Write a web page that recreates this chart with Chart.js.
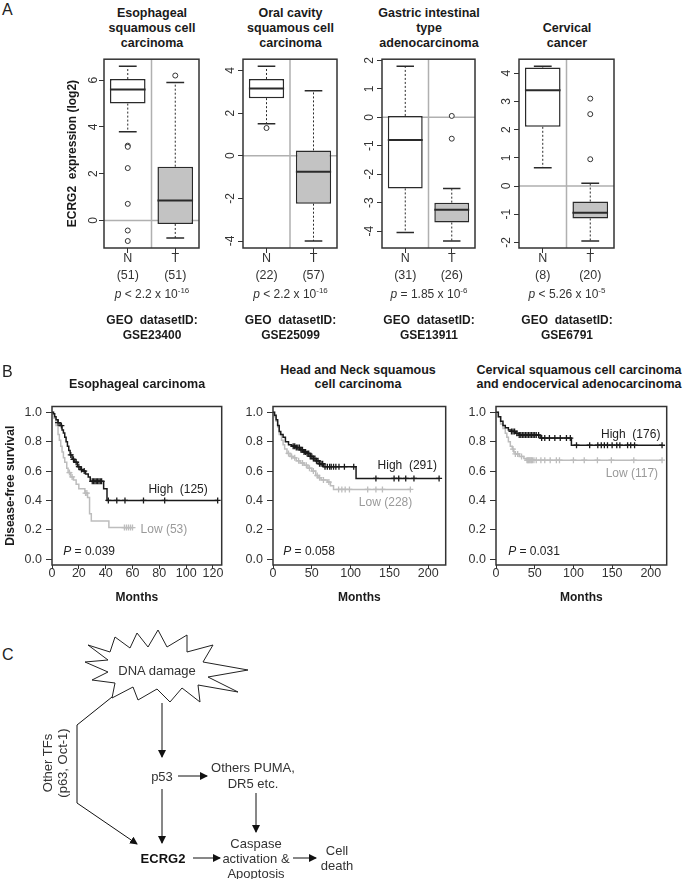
<!DOCTYPE html>
<html>
<head>
<meta charset="utf-8">
<script src="https://cdn.jsdelivr.net/npm/chart.js@4.4.1/dist/chart.umd.min.js"></script>
<style>
  body { margin: 0; background: #fff; }
  #page { position: relative; width: 685px; height: 879px; overflow: hidden; background: #fff;
          font-family: "Liberation Sans", Arial, sans-serif; color: #222; }
  #page canvas { position: absolute; }
  .lbl { position: absolute; white-space: nowrap; transform: translate(-50%, -50%); text-align: center; }
  .ttl { font-weight: bold; font-size: 12.5px; color: #1a1a1a; }
  .pv { font-size: 12px; color: #333; }
  .pv sup { font-size: 8px; vertical-align: 5px; }
  .geo { font-weight: bold; font-size: 12px; color: #1a1a1a; }
  .panel { font-size: 16px; color: #222; transform: translate(0, -50%); }
  svg { position: absolute; left: 0; top: 0; }
</style>
</head>
<body>
<div id="page"></div>
<script>
// ---- Panel A: ECRG2 expression box plots ----
const groups = ['N', 'T'];
const aTitles = [
  ['Esophageal', 'squamous cell', 'carcinoma'],
  ['Oral cavity', 'squamous cell', 'carcinoma'],
  ['Gastric intestinal', 'type', 'adenocarcinoma'],
  ['', 'Cervical', 'cancer'],
];
const aCounts = [[51, 51], [22, 57], [31, 26], [8, 20]];
const aLowerWhisker = [[3.8, -0.75], [1.5, -4.0], [-4.05, -4.35], [0.65, -1.95]];
const aQ1 = [[5.0, -0.15], [2.7, -2.25], [-2.5, -3.7], [2.1, -1.15]];
const aMedian = [[5.6, 0.85], [3.15, -0.75], [-0.8, -3.25], [3.4, -0.95]];
const aQ3 = [[6.05, 2.3], [3.6, 0.25], [0.05, -3.0], [4.2, -0.55]];
const aUpperWhisker = [[6.6, 5.9], [4.2, 3.05], [1.8, -2.5], [4.25, 0.1]];
const aOutliers = [
  [[3.2, 3.15, 2.24, 0.71, -0.43, -0.88], [6.2]],
  [[1.3], []],
  [[], [0.05, -0.75]],
  [[], [3.1, 2.55, 0.95]],
];
const aYTicks = [[0, 2, 4, 6], [-4, -2, 0, 2, 4], [-4, -3, -2, -1, 0, 1, 2], [-2, -1, 0, 1, 2, 3, 4]];
const aPSign = ['<', '<', '=', '<'];
const aPMant = ['2.2', '2.2', '1.85', '5.26'];
const aPExp = ['-16', '-16', '-6', '-5'];
const aGeo = ['GSE23400', 'GSE25099', 'GSE13911', 'GSE6791'];

// ---- Panel B: Kaplan-Meier disease-free survival ----
const kmTitles = [['Esophageal  carcinoma'], ['Head and Neck squamous', 'cell carcinoma'],
  ['Cervical squamous cell carcinoma', 'and endocervical adenocarcinoma']];
const kmYTicks = [0, 0.2, 0.4, 0.6, 0.8, 1.0];
const kmXTicks = [[0, 20, 40, 60, 80, 100, 120], [0, 50, 100, 150, 200], [0, 50, 100, 150, 200]];
const kmXMax = [126.5, 222.5, 220.5];
const kmHighN = [125, 291, 176];
const kmLowN = [53, 228, 117];
const kmP = ['0.039', '0.058', '0.031'];

const escHighT = [0, 1, 2, 3, 4.5, 6, 7.5, 8.5, 9.5, 10.5, 11.5, 12.5, 13.5, 15, 17, 19, 21, 23, 25, 27, 28.5, 38.5, 41, 123.5];
const escHighS = [1, 0.99, 0.97, 0.95, 0.93, 0.91, 0.88, 0.86, 0.83, 0.80, 0.77, 0.74, 0.71, 0.68, 0.66, 0.63, 0.61, 0.60, 0.58, 0.56, 0.53, 0.48, 0.40, 0.40];
const escHighCens = [4.5, 7, 14, 16, 18, 20, 22, 24, 30, 31, 32, 33, 34, 35, 36, 37, 42, 48.3, 54.4, 68.2, 84, 123.5];
const escLowT = [0, 1.5, 3, 4.5, 5.5, 6.5, 7.5, 8.5, 9.5, 11, 12, 14, 16, 18, 20, 24.5, 26.5, 28, 29.3, 42.4, 60];
const escLowS = [1, 0.96, 0.91, 0.85, 0.81, 0.77, 0.73, 0.69, 0.66, 0.62, 0.59, 0.56, 0.54, 0.51, 0.48, 0.45, 0.42, 0.31, 0.26, 0.215, 0.215];
const escLowCens = [13, 15, 25, 26, 54, 55.5, 57, 58.5, 60];

const hnHighT = [0, 2, 4, 6, 8, 10, 13, 16, 20, 24, 30, 36, 40, 44, 48, 52, 56, 60, 65, 107, 214];
const hnHighS = [1, 0.98, 0.95, 0.91, 0.87, 0.85, 0.83, 0.80, 0.78, 0.77, 0.76, 0.745, 0.73, 0.72, 0.70, 0.685, 0.67, 0.65, 0.63, 0.55, 0.55];
const hnHighCens = [26, 28, 30, 32, 34, 36, 38, 40, 42, 44, 46, 48, 50, 52, 54, 56, 58, 60, 62, 64, 67, 70, 73, 75, 78, 81, 85, 92, 104, 132.6, 156, 162, 171, 181.6, 214];
const hnLowT = [0, 2, 4, 6, 8, 11, 13, 15, 18, 22, 26, 30, 35, 40, 45, 50, 55, 58, 62, 70, 74, 78, 177];
const hnLowS = [1, 0.97, 0.94, 0.90, 0.85, 0.81, 0.78, 0.75, 0.72, 0.70, 0.69, 0.67, 0.655, 0.64, 0.62, 0.60, 0.57, 0.555, 0.54, 0.525, 0.50, 0.475, 0.475];
const hnLowCens = [20, 24, 28, 33, 38, 43, 47, 52, 57, 60, 65, 72, 84.5, 88.7, 93, 98.5, 122, 132.6, 141, 177];

const cxHighT = [0, 3, 6, 9, 12, 16, 20, 25, 30, 57, 97.4, 214.5];
const cxHighS = [1, 0.97, 0.94, 0.91, 0.895, 0.88, 0.87, 0.857, 0.845, 0.825, 0.776, 0.776];
const cxHighCens = [20, 22, 24, 27, 30, 32, 34, 36, 38, 40, 42, 44, 46, 48, 50, 52, 55, 59, 63, 69, 76, 83, 91, 96, 104, 121, 131.5, 136, 140, 144, 150, 156, 160, 170, 174, 179, 214.5];
const cxLowT = [0, 3, 6, 9, 12, 14, 16, 18.5, 21, 23, 25, 30, 36, 40, 214.5];
const cxLowS = [1, 0.97, 0.92, 0.89, 0.857, 0.83, 0.80, 0.77, 0.75, 0.73, 0.717, 0.70, 0.685, 0.674, 0.674];
const cxLowCens = [22, 25, 28, 33, 40, 41, 42, 43, 44, 45, 46, 47, 49, 52, 58, 63, 70, 78, 82, 100, 114, 131, 149, 178, 214.5];

const kmSets = [
  [escHighT, escHighS, escHighCens, escLowT, escLowS, escLowCens],
  [hnHighT, hnHighS, hnHighCens, hnLowT, hnLowS, hnLowCens],
  [cxHighT, cxHighS, cxHighCens, cxLowT, cxLowS, cxLowCens],
];

Chart.defaults.font.family = '"Liberation Sans", Arial, sans-serif';
Chart.defaults.color = '#333';

const page = document.getElementById('page');

function makeCanvas(l, t, w, h) {
  const c = document.createElement('canvas');
  c.width = w; c.height = h;
  c.style.left = l + 'px'; c.style.top = t + 'px';
  c.style.width = w + 'px'; c.style.height = h + 'px';
  page.appendChild(c);
  return c;
}

function label(x, y, html, cls) {
  const d = document.createElement('div');
  d.className = 'lbl ' + cls;
  d.style.left = x + 'px'; d.style.top = y + 'px';
  d.innerHTML = html;
  page.appendChild(d);
}

const framePlugin = {
  id: 'frame',
  afterDraw(chart) {
    const { ctx, chartArea: a } = chart;
    ctx.save();
    ctx.strokeStyle = '#333';
    ctx.lineWidth = 1.5;
    ctx.strokeRect(a.left, a.top, a.right - a.left, a.bottom - a.top);
    ctx.restore();
  },
};

const boxPlugin = {
  id: 'boxWhisker',
  beforeDatasetsDraw(chart) {
    const { ctx, chartArea: a, scales: { y } } = chart;
    const y0 = y.getPixelForValue(0), xm = (a.left + a.right) / 2;
    ctx.save();
    ctx.strokeStyle = '#b0b0b0';
    ctx.lineWidth = 1.5;
    ctx.beginPath();
    ctx.moveTo(a.left, y0); ctx.lineTo(a.right, y0);
    ctx.moveTo(xm, a.top); ctx.lineTo(xm, a.bottom);
    ctx.stroke();
    ctx.restore();
  },
  afterDatasetsDraw(chart, args, o) {
    const { ctx, scales: { y } } = chart;
    const meta = chart.getDatasetMeta(0);
    ctx.save();
    ctx.strokeStyle = '#2a2a2a';
    meta.data.forEach((bar, j) => {
      const x = bar.x, hw = bar.width / 2;
      const pMin = y.getPixelForValue(o.min[j]), pMax = y.getPixelForValue(o.max[j]);
      const pQ1 = y.getPixelForValue(o.q1[j]), pQ3 = y.getPixelForValue(o.q3[j]);
      const pMed = y.getPixelForValue(o.med[j]);
      ctx.lineWidth = 1;
      ctx.setLineDash([2, 2]);
      ctx.beginPath();
      ctx.moveTo(x, pQ3); ctx.lineTo(x, pMax);
      ctx.moveTo(x, pQ1); ctx.lineTo(x, pMin);
      ctx.stroke();
      ctx.setLineDash([]);
      ctx.lineWidth = 1.5;
      ctx.beginPath();
      ctx.moveTo(x - hw / 2, pMax); ctx.lineTo(x + hw / 2, pMax);
      ctx.moveTo(x - hw / 2, pMin); ctx.lineTo(x + hw / 2, pMin);
      ctx.stroke();
      ctx.lineWidth = 2;
      ctx.beginPath();
      ctx.moveTo(x - hw, pMed); ctx.lineTo(x + hw, pMed);
      ctx.stroke();
    });
    ctx.restore();
  },
};

const kmTextPlugin = {
  id: 'kmText',
  afterDatasetsDraw(chart, args, o) {
    const { ctx, scales: { x, y } } = chart;
    ctx.save();
    ctx.textBaseline = 'middle';
    ctx.font = '12px "Liberation Sans", Arial, sans-serif';
    o.items.forEach(it => {
      ctx.fillStyle = it.color;
      ctx.textAlign = 'center';
      ctx.fillText(it.text, x.getPixelForValue(it.t), y.getPixelForValue(it.s));
    });
    // P value, italic P
    const px = x.getPixelForValue(o.p.t), py = y.getPixelForValue(o.p.s);
    ctx.fillStyle = '#222';
    ctx.textAlign = 'left';
    ctx.font = 'italic 12px "Liberation Sans", Arial, sans-serif';
    ctx.fillText('P', px, py);
    const w = ctx.measureText('P').width;
    ctx.font = '12px "Liberation Sans", Arial, sans-serif';
    ctx.fillText(' = ' + o.p.text, px + w, py);
    ctx.restore();
  },
};

// layout of the frames (page pixels)
const aFrames = [[104, 200], [243, 338], [382, 476], [519, 615]];

aFrames.forEach(([fl, fr], i) => {
  const axisW = i === 0 ? 44 : 30;
  const left = fl - axisW;
  const cv = makeCanvas(left, 50, fr + 4 - left, 240);
  const vals = [].concat(aLowerWhisker[i], aUpperWhisker[i], aOutliers[i][0], aOutliers[i][1]);
  const lo = Math.min(...vals), hi = Math.max(...vals), ext = (hi - lo) * 0.04;
  const outPts = [];
  aOutliers[i].forEach((arr, j) => arr.forEach(v => outPts.push({ x: groups[j], y: v })));
  new Chart(cv, {
    type: 'bar',
    data: {
      labels: groups,
      datasets: [
        { type: 'bar', data: groups.map((g, j) => [aQ1[i][j], aQ3[i][j]]),
          backgroundColor: ['#ffffff', '#c3c3c3'], borderColor: '#2a2a2a', borderWidth: 1.5,
          borderSkipped: false, categoryPercentage: 1, barPercentage: 0.75, order: 1 },
        { type: 'scatter', data: outPts, pointStyle: 'circle', pointRadius: 2.5,
          borderColor: '#333', backgroundColor: '#fff', borderWidth: 1, order: 0 },
      ],
    },
    options: {
      responsive: false, animation: false, devicePixelRatio: 1,
      layout: { padding: { top: 9, right: 4, bottom: 2, left: 0 } },
      plugins: {
        legend: { display: false }, tooltip: { enabled: false },
        boxWhisker: { min: aLowerWhisker[i], q1: aQ1[i], med: aMedian[i], q3: aQ3[i], max: aUpperWhisker[i] },
      },
      scales: {
        x: {
          grid: { offset: false, drawOnChartArea: false, tickLength: 5, color: '#333' },
          border: { display: false },
          ticks: { font: { size: 12.5, lineHeight: 1.36 }, color: '#333', padding: -3, maxRotation: 0, autoSkip: false,
                   callback: (v, j) => [groups[j], '(' + aCounts[i][j] + ')'] },
          afterFit(s) { s.height = 40; },
        },
        y: {
          min: lo - ext, max: hi + ext,
          afterBuildTicks(s) { s.ticks = aYTicks[i].map(v => ({ value: v })); },
          grid: { drawOnChartArea: false, tickLength: 5, color: '#333' },
          border: { display: false },
          ticks: { minRotation: 90, maxRotation: 90, crossAlign: 'center', padding: 2, font: { size: 12 }, color: '#333' },
          title: { display: i === 0, text: 'ECRG2  expression (log2)', color: '#1a1a1a',
                   font: { size: 12, weight: 'bold' }, padding: { top: 5, bottom: 0 } },
          afterFit(s) { s.width = axisW; },
        },
      },
    },
    plugins: [boxPlugin, framePlugin],
  });

  const cx = (fl + fr) / 2;
  [13, 28, 43].forEach((yy, k) => { if (aTitles[i][k]) label(cx, yy, aTitles[i][k], 'ttl'); });
  label(cx, 293, '<i>p</i> ' + aPSign[i] + ' ' + aPMant[i] + ' x 10<sup>' + aPExp[i] + '</sup>', 'pv');
  label(cx, 320, 'GEO&nbsp; datasetID:', 'geo');
  label(cx, 335, aGeo[i], 'geo');
});

// ---- Panel B charts ----
function survAt(times, surv, t) {
  let k = 0;
  for (let i = 0; i < times.length; i++) if (times[i] <= t) k = i;
  return surv[k];
}

const kmFrames = [[51.7, 222.7], [272.7, 446.7], [495.7, 668.3]];
const kmTitleX = [137, 358, 579];
const kmLabelPos = [
  { high: [94, 0.47], low: [83.4, 0.2], p: [8.4, 0.05] },
  { high: [173, 0.635], low: [145, 0.385], p: [13.2, 0.05] },
  { high: [174, 0.85], low: [175.5, 0.585], p: [15.7, 0.05] },
];

kmFrames.forEach(([fl, fr], k) => {
  const axisW = k === 0 ? 52 : 40;
  const left = Math.round(fl - axisW);
  const cv = makeCanvas(left, 395, Math.round(fr + 4 - left), 217);
  const [hT, hS, hC, lT, lS, lC] = kmSets[k];
  const pos = kmLabelPos[k];
  new Chart(cv, {
    type: 'scatter',
    data: {
      datasets: [
        { data: hC.map(t => ({ x: t, y: survAt(hT, hS, t) })), pointStyle: 'cross', pointRadius: 3,
          borderColor: '#1a1a1a', borderWidth: 1.3, showLine: false },
        { data: hT.map((t, i) => ({ x: t, y: hS[i] })), showLine: true, stepped: true,
          borderColor: '#1a1a1a', borderWidth: 1.5, pointRadius: 0 },
        { data: lC.map(t => ({ x: t, y: survAt(lT, lS, t) })), pointStyle: 'cross', pointRadius: 3,
          borderColor: '#bdbdbd', borderWidth: 1.3, showLine: false },
        { data: lT.map((t, i) => ({ x: t, y: lS[i] })), showLine: true, stepped: true,
          borderColor: '#bdbdbd', borderWidth: 1.5, pointRadius: 0 },
      ],
    },
    options: {
      responsive: false, animation: false, devicePixelRatio: 1,
      layout: { padding: { top: 6, right: 4, bottom: 2, left: 0 } },
      plugins: {
        legend: { display: false }, tooltip: { enabled: false },
        kmText: {
          items: [
            { text: 'High  (' + kmHighN[k] + ')', t: pos.high[0], s: pos.high[1], color: '#222' },
            { text: 'Low (' + kmLowN[k] + ')', t: pos.low[0], s: pos.low[1], color: '#9a9a9a' },
          ],
          p: { text: kmP[k], t: pos.p[0], s: pos.p[1] },
        },
      },
      scales: {
        x: {
          type: 'linear', min: 0, max: kmXMax[k],
          afterBuildTicks(s) { s.ticks = kmXTicks[k].map(v => ({ value: v })); },
          grid: { drawOnChartArea: false, tickLength: 4, color: '#333' },
          border: { display: false },
          ticks: { font: { size: 12.5 }, color: '#333', padding: -3, maxRotation: 0 },
          title: { display: true, text: 'Months', color: '#1a1a1a', font: { size: 12, weight: 'bold' },
                   padding: { top: 0, bottom: 5 } },
          afterFit(s) { s.height = 45; },
        },
        y: {
          min: -0.04, max: 1.04,
          afterBuildTicks(s) { s.ticks = kmYTicks.map(v => ({ value: v })); },
          grid: { drawOnChartArea: false, tickLength: 6, color: '#333' },
          border: { display: false },
          ticks: { font: { size: 12.5 }, color: '#333', padding: 4, callback: v => v.toFixed(1) },
          title: { display: k === 0, text: 'Disease-free survival', color: '#1a1a1a',
                   font: { size: 12, weight: 'bold' }, padding: { top: 3, bottom: 0 } },
          afterFit(s) { s.width = axisW; },
        },
      },
    },
    plugins: [kmTextPlugin, framePlugin],
  });
  const lines = kmTitles[k];
  const ys = lines.length === 1 ? [384] : [370, 384];
  lines.forEach((t, j) => label(kmTitleX[k], ys[j], t, 'ttl'));
});

// panel letters
[['A', 10], ['B', 372], ['C', 655]].forEach(([t, y]) => {
  const d = document.createElement('div');
  d.className = 'lbl panel';
  d.style.left = '2px'; d.style.top = y + 'px';
  d.textContent = t;
  page.appendChild(d);
});

// ---- Panel C: pathway diagram ----
const NS = 'http://www.w3.org/2000/svg';
const svg = document.createElementNS(NS, 'svg');
svg.setAttribute('width', 685); svg.setAttribute('height', 879);
svg.innerHTML = `
<defs><marker id="ah" markerWidth="8" markerHeight="8" refX="7" refY="4" orient="auto" markerUnits="userSpaceOnUse">
<path d="M0,0 L8,4 L0,8 z" fill="#111"/></marker></defs>
<polygon points="88,645 110,652 115,637 130,648 137,633 148,647 158,630 167,647 187,635 187,652 213,645 203,662 248,670 208,677 238,692 198,685 200,702 182,688 170,702 157,689 138,700 133,687 112,698 115,683 92,680 108,672 85,662 108,660"
  fill="#fff" stroke="#222" stroke-width="1"/>
<g stroke="#111" stroke-width="1" fill="none">
<line x1="162" y1="703" x2="162" y2="757" marker-end="url(#ah)"/>
<line x1="178" y1="776" x2="207" y2="776" marker-end="url(#ah)"/>
<line x1="256" y1="793" x2="256" y2="832" marker-end="url(#ah)"/>
<line x1="162" y1="789" x2="162" y2="843" marker-end="url(#ah)"/>
<line x1="193" y1="858" x2="220" y2="858" marker-end="url(#ah)"/>
<line x1="293" y1="858" x2="316" y2="858" marker-end="url(#ah)"/>
<polyline points="112,697 77,725 77,803 137,844" marker-end="url(#ah)"/>
</g>
<g font-family="Liberation Sans, Arial, sans-serif" font-size="13" fill="#333" text-anchor="middle" dominant-baseline="central">
<text x="157" y="670">DNA damage</text>
<text x="162" y="776">p53</text>
<text x="253" y="767">Others PUMA,</text>
<text x="253" y="783">DR5 etc.</text>
<text x="163" y="858" font-weight="bold" fill="#111">ECRG2</text>
<text x="256" y="843">Caspase</text>
<text x="256" y="858">activation &amp;</text>
<text x="256" y="873">Apoptosis</text>
<text x="337" y="850">Cell</text>
<text x="337" y="865">death</text>
<text transform="translate(47,763) rotate(-90)">Other TFs</text>
<text transform="translate(62,763) rotate(-90)">(p63, Oct-1)</text>
</g>`;
page.appendChild(svg);
</script>
</body>
</html>
